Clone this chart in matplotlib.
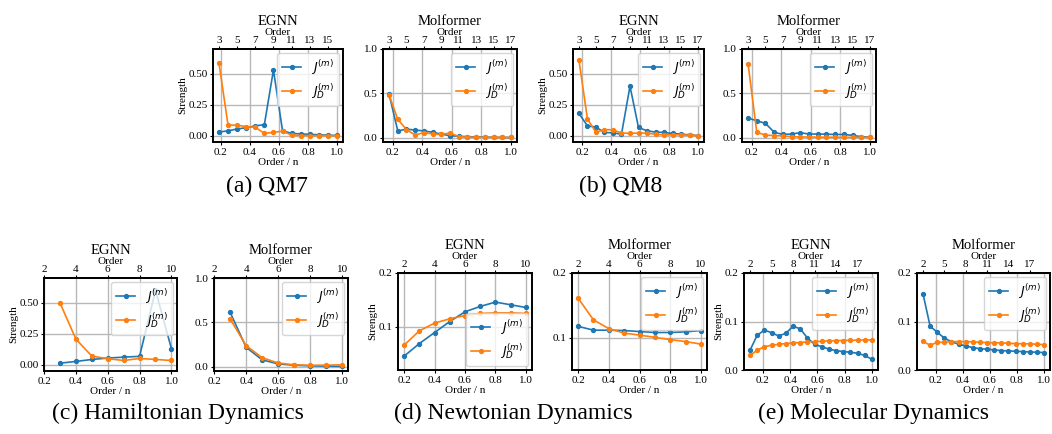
import matplotlib
matplotlib.use('Agg')
import matplotlib.pyplot as plt
import numpy as np

plt.rcParams['font.family'] = ['Liberation Serif', 'DejaVu Serif']
plt.rcParams['mathtext.fontset'] = 'dejavusans'

# ---------------- data ----------------
# QM7
qm7_egnn_n = 16
qm7_egnn_orders = list(range(3, 17))
qm7_egnn_J = [0.03, 0.04, 0.055, 0.065, 0.08, 0.09, 0.53, 0.04, 0.02, 0.015, 0.012, 0.008, 0.005, 0.003]
qm7_egnn_JD = [0.59, 0.088, 0.085, 0.075, 0.068, 0.02, 0.027, 0.038, 0.005, 0.002, 0.001, 0.001, 0.001, 0.001]

qm7_mol_n = 17
qm7_mol_orders = list(range(3, 18))
qm7_mol_J = [0.49, 0.075, 0.095, 0.085, 0.075, 0.06, 0.04, 0.02, 0.015, 0.01, 0.008, 0.005, 0.003, 0.002, 0.001]
qm7_mol_JD = [0.48, 0.205, 0.09, 0.028, 0.057, 0.04, 0.035, 0.052, 0.01, 0.005, 0.004, 0.003, 0.002, 0.002, 0.001]

# QM8
qm8_egnn_n = 17
qm8_egnn_orders = list(range(3, 18))
qm8_egnn_J = [0.18, 0.08, 0.07, 0.027, 0.024, 0.013, 0.40, 0.067, 0.04, 0.03, 0.027, 0.019, 0.013, 0.008, 0.001]
qm8_egnn_JD = [0.61, 0.135, 0.028, 0.05, 0.048, 0.022, 0.02, 0.022, 0.022, 0.012, 0.008, 0.008, 0.008, 0.005, 0.001]

qm8_mol_n = 17
qm8_mol_orders = list(range(3, 18))
qm8_mol_J = [0.22, 0.19, 0.16, 0.06, 0.035, 0.04, 0.055, 0.04, 0.04, 0.038, 0.035, 0.035, 0.025, 0.01, 0.004]
qm8_mol_JD = [0.83, 0.06, 0.028, 0.022, 0.018, 0.01, 0.008, 0.006, 0.005, 0.004, 0.004, 0.003, 0.003, 0.002, 0.001]

# Hamiltonian dynamics
ham_egnn_n = 10
ham_egnn_orders = list(range(3, 11))
ham_egnn_J = [0.013, 0.027, 0.043, 0.054, 0.062, 0.068, 0.60, 0.13]
ham_egnn_JD = [0.50, 0.208, 0.07, 0.049, 0.035, 0.051, 0.043, 0.035]

ham_mol_n = 10
ham_mol_orders = list(range(3, 11))
ham_mol_J = [0.615, 0.218, 0.076, 0.03, 0.015, 0.008, 0.005, 0.002]
ham_mol_JD = [0.54, 0.237, 0.10, 0.04, 0.02, 0.015, 0.016, 0.02]

# Newtonian dynamics
newt_egnn_n = 10
newt_egnn_orders = list(range(2, 11))
newt_egnn_J = [0.0457, 0.069, 0.0895, 0.110, 0.128, 0.138, 0.146, 0.141, 0.136]
newt_egnn_JD = [0.066, 0.0926, 0.107, 0.115, 0.121, 0.125, 0.126, 0.126, 0.125]

newt_mol_n = 10
newt_mol_orders = list(range(2, 11))
newt_mol_J = [0.1175, 0.1116, 0.1116, 0.111, 0.1095, 0.108, 0.108, 0.109, 0.111]
newt_mol_JD = [0.161, 0.1275, 0.114, 0.107, 0.104, 0.1005, 0.097, 0.094, 0.090]

# Molecular dynamics
md_egnn_n = 19
md_egnn_orders = list(range(2, 20))
md_egnn_J = [0.041, 0.072, 0.082, 0.077, 0.070, 0.076, 0.090, 0.085, 0.066, 0.053, 0.048,
             0.043, 0.040, 0.038, 0.0366, 0.0345, 0.030, 0.022]
md_egnn_JD = [0.030, 0.041, 0.048, 0.051, 0.053, 0.0545, 0.056, 0.0565, 0.058, 0.0586, 0.0593,
              0.060, 0.0607, 0.0607, 0.0614, 0.0614, 0.062, 0.062]

md_mol_n = 19
md_mol_orders = list(range(2, 20))
md_mol_J = [0.1566, 0.090, 0.078, 0.0655, 0.0586, 0.053, 0.0497, 0.046, 0.044, 0.0428, 0.0414,
            0.040, 0.0393, 0.0386, 0.038, 0.0372, 0.0366, 0.036]
md_mol_JD = [0.059, 0.051, 0.0572, 0.057, 0.0586, 0.0586, 0.0586, 0.058, 0.0572, 0.0566, 0.056,
             0.056, 0.055, 0.0545, 0.054, 0.054, 0.053, 0.0524]

bottom_ticks = [0.2, 0.4, 0.6, 0.8, 1.0]

# ---------------- figure ----------------
W, H = 1052, 434
fig = plt.figure(figsize=(W / 100, H / 100), dpi=100)

BLUE = '#1f77b4'
ORANGE = '#ff7f0e'
TICK_FS = 8
LAB_FS = 8


def rect(x0, x1, y0, y1):
    return [x0 / W, 1 - y1 / H, (x1 - x0) / W, (y1 - y0) / H]


def panel(r, n, orders, J, JD, title, ylim, yticks, top_ticks, xlim=None,
          ylabel=False, loc='upper right'):
    ax = fig.add_axes(r)
    x = np.array(orders) / n
    ax.plot(x, J, '-o', color=BLUE, lw=1.2, ms=2.8, label=r'$J^{(m)}$')
    ax.plot(x, JD, '-o', color=ORANGE, lw=1.2, ms=2.8, label=r'$J_D^{(m)}$')
    ax.set_ylim(ylim)
    ax.set_yticks(yticks)
    ax.set_xticks(bottom_ticks)
    if xlim is not None:
        ax.set_xlim(xlim)
    ax.grid(True, color='#b8b8b8', lw=1.0)
    ax.set_axisbelow(True)
    for s in ax.spines.values():
        s.set_linewidth(1.4)
        s.set_color('black')
    ax.tick_params(labelsize=TICK_FS, length=2.5, width=0.8, pad=1.5)
    ax.set_xlabel('Order / n', fontsize=LAB_FS, labelpad=1)
    if ylabel:
        ax.set_ylabel('Strength', fontsize=LAB_FS, labelpad=1)
    sec = ax.secondary_xaxis('top', functions=(lambda v: v * n, lambda v: v / n))
    sec.set_xticks(top_ticks)
    sec.tick_params(labelsize=TICK_FS, length=2, width=0.8, pad=0.8)
    sec.set_xlabel('Order', fontsize=LAB_FS, labelpad=0.8)
    sec.spines['top'].set_linewidth(1.4)
    ax.set_title(title, fontsize=10.5, pad=1.2)
    ax.legend(loc=loc, fontsize=9, handlelength=1.5, borderaxespad=0.3,
              labelspacing=0.4, borderpad=0.4, handletextpad=0.8)
    return ax


# Row 1
panel(rect(213, 343, 49, 142), qm7_egnn_n, qm7_egnn_orders, qm7_egnn_J, qm7_egnn_JD,
      'EGNN', (-0.05, 0.70), [0.0, 0.25, 0.5], list(range(3, 16, 2)), ylabel=True)
panel(rect(383, 517, 49, 142), qm7_mol_n, qm7_mol_orders, qm7_mol_J, qm7_mol_JD,
      'Molformer', (-0.05, 1.0), [0.0, 0.5, 1.0], list(range(3, 18, 2)))
panel(rect(573, 704, 49, 142), qm8_egnn_n, qm8_egnn_orders, qm8_egnn_J, qm8_egnn_JD,
      'EGNN', (-0.05, 0.70), [0.0, 0.25, 0.5], list(range(3, 18, 2)), ylabel=True)
panel(rect(742, 876, 49, 142), qm8_mol_n, qm8_mol_orders, qm8_mol_J, qm8_mol_JD,
      'Molformer', (-0.05, 1.0), [0.0, 0.5, 1.0], list(range(3, 18, 2)))

# Row 2
panel(rect(44, 177, 278, 371), ham_egnn_n, ham_egnn_orders, ham_egnn_J, ham_egnn_JD,
      'EGNN', (-0.05, 0.70), [0.0, 0.25, 0.5], list(range(2, 11, 2)),
      xlim=(0.2, 1.035), ylabel=True)
panel(rect(214, 348, 278, 371), ham_mol_n, ham_mol_orders, ham_mol_J, ham_mol_JD,
      'Molformer', (-0.05, 1.0), [0.0, 0.5, 1.0], list(range(2, 11, 2)),
      xlim=(0.2, 1.035))
panel(rect(398, 532, 273, 370), newt_egnn_n, newt_egnn_orders, newt_egnn_J, newt_egnn_JD,
      'EGNN', (0.02, 0.2), [0.1, 0.2], list(range(2, 11, 2)), ylabel=True,
      loc='lower right')
panel(rect(572, 707, 273, 370), newt_mol_n, newt_mol_orders, newt_mol_J, newt_mol_JD,
      'Molformer', (0.05, 0.2), [0.1, 0.2], list(range(2, 11, 2)))
panel(rect(744, 878, 273, 370), md_egnn_n, md_egnn_orders, md_egnn_J, md_egnn_JD,
      'EGNN', (0.0, 0.2), [0.0, 0.1, 0.2], list(range(2, 19, 3)), ylabel=True)
panel(rect(917, 1050, 273, 370), md_mol_n, md_mol_orders, md_mol_J, md_mol_JD,
      'Molformer', (0.0, 0.2), [0.0, 0.1, 0.2], list(range(2, 19, 3)))

# Captions
CAP_FS = 17
fig.text(267 / W, 1 - 186 / H, '(a) QM7', fontsize=CAP_FS, ha='center', va='center')
fig.text(621 / W, 1 - 186 / H, '(b) QM8', fontsize=CAP_FS, ha='center', va='center')
fig.text(178 / W, 1 - 413 / H, '(c) Hamiltonian Dynamics', fontsize=CAP_FS, ha='center', va='center')
fig.text(513 / W, 1 - 413 / H, '(d) Newtonian Dynamics', fontsize=CAP_FS, ha='center', va='center')
fig.text(874 / W, 1 - 413 / H, '(e) Molecular Dynamics', fontsize=CAP_FS, ha='center', va='center')

fig.savefig('out.png', dpi=100)
